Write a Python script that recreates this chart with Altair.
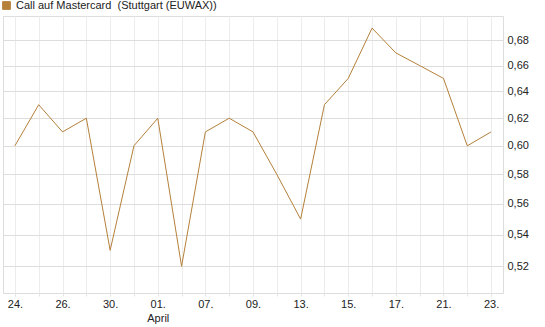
import altair as alt
import pandas as pd

days = ["24.", "25.", "26.", "27.", "30.", "31.", "01.", "02.", "07.", "08.", "09.",
        "10.", "13.", "14.", "15.", "16.", "17.", "20.", "21.", "22.", "23."]
values = [0.60, 0.63, 0.61, 0.62, 0.53, 0.60, 0.62, 0.52, 0.61, 0.62, 0.61,
          0.58, 0.55, 0.63, 0.65, 0.69, 0.67, 0.66, 0.65, 0.60, 0.61]
labeled = ["24.", "26.", "30.", "01.", "07.", "09.", "13.", "15.", "17.", "21.", "23."]
y_ticks = [0.52, 0.54, 0.56, 0.58, 0.60, 0.62, 0.64, 0.66, 0.68]
series_name = "Call auf Mastercard\u00a0\u00a0(Stuttgart (EUWAX))"

df = pd.DataFrame({"day": days, "value": values, "series": series_name})

lab_list = "[" + ",".join("'%s'" % d for d in labeled) + "]"
x_label_expr = ("datum.value == '01.' ? ['01.', 'April'] : "
                "(indexof(%s, datum.value) >= 0 ? datum.value : '')" % lab_list)

FONT = "Liberation Sans"
COLOR = "#B5803A"

chart = alt.Chart(df).mark_line(strokeWidth=1, interpolate="linear").encode(
    x=alt.X("day:O", sort=days, title=None,
            scale=alt.Scale(type="point", padding=0.5),
            axis=alt.Axis(labelAngle=0, grid=True, gridColor="#ececec", gridWidth=1,
                          domain=False, ticks=True, tickColor="#e4e4e4", tickSize=3,
                          labelExpr=x_label_expr, labelFont=FONT, labelFontSize=11,
                          labelColor="#222222", labelPadding=2, labelLineHeight=14,
                          labelBaseline="top")),
    y=alt.Y("value:Q", title=None,
            scale=alt.Scale(type="log", domain=[0.5038, 0.70], nice=False),
            axis=alt.Axis(orient="right", values=y_ticks, grid=True, gridColor="#dddddd",
                          domain=False, ticks=False, labelPadding=4,
                          labelExpr="replace(format(datum.value, '.2f'), '.', ',')",
                          labelFont=FONT, labelFontSize=11, labelColor="#222222")),
    color=alt.Color("series:N", scale=alt.Scale(range=[COLOR]),
                    legend=alt.Legend(orient="none", legendX=-2, legendY=-16, title=None,
                                      symbolType="square", symbolSize=60,
                                      symbolFillColor=COLOR, symbolStrokeColor="#5a3c14",
                                      symbolStrokeWidth=1, labelFont=FONT,
                                      labelFontSize=11, labelColor="#222222",
                                      labelOffset=4, padding=0, labelLimit=0)),
).properties(
    width=500, height=277,
    autosize=alt.AutoSizeParams(type="none"),
    padding={"left": 3, "top": 16, "right": 42, "bottom": 34},
).configure_view(
    stroke="#cccccc", strokeWidth=1
).configure(background="white")

chart.save("out.html", embed_options={"renderer": "svg", "actions": False})
